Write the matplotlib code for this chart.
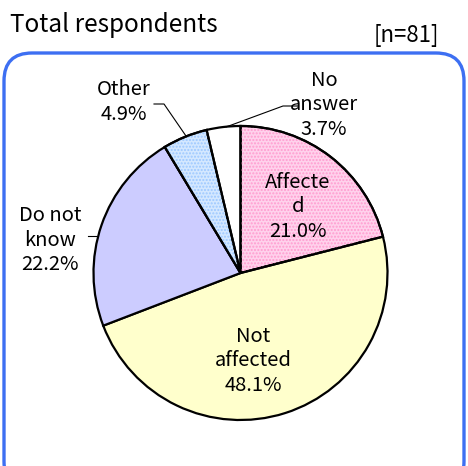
import matplotlib.pyplot as plt
from matplotlib.patches import FancyBboxPatch, Wedge

plt.rcParams['font.family'] = ['Noto Sans CJK JP', 'DejaVu Sans']

# data
labels = ['Affecte\nd', 'Not\naffected', 'Do not\nknow', 'Other', 'No\nanswer']
shares = [21.0, 48.1, 22.2, 4.9, 3.7]
colors = ['#ffd2ec', '#ffffcc', '#ccccff', '#d4e8ff', '#ffffff']
hatches = ['#ff9ccf', None, None, '#9cc8ff', None]
title = 'Total respondents'
n_note = '[n=81]'

W, H = 468, 466
cx, cy, R = 240.5, 273, 147  # pie centre/radius in pixels

fig = plt.figure(figsize=(W / 100, H / 100), dpi=100)
ax = fig.add_axes([0, 0, 1, 1])

# rounded blue frame
frame = FancyBboxPatch((4 / W, -0.05), (W - 8) / W, (H - 53) / H + 0.05,
                       boxstyle='round,pad=0,rounding_size=0.06',
                       transform=fig.transFigure, fill=False,
                       edgecolor='#3d6ff2', linewidth=2.4)
fig.patches.append(frame)

wedges, _ = ax.pie(shares, colors=colors, startangle=90, counterclock=False,
                   radius=1, center=(0, 0),
                   wedgeprops=dict(edgecolor='black', linewidth=1.6))

# dotted texture on the two hatched slices
for w, hc in zip(wedges, hatches):
    if hc:
        ax.add_patch(Wedge(w.center, w.r, w.theta1, w.theta2, facecolor='none',
                           edgecolor=hc, hatch='.....', linewidth=0, zorder=w.get_zorder() + 0.1))
        ax.add_patch(Wedge(w.center, w.r, w.theta1, w.theta2, facecolor='none',
                           edgecolor='black', linewidth=1.6, zorder=w.get_zorder() + 0.2))

ax.set_xlim(-cx / R, (W - cx) / R)
ax.set_ylim((cy - H) / R, cy / R)
ax.set_aspect('equal')
ax.axis('off')

def px(x, y):
    return ((x - cx) / R, (cy - y) / R)

# label positions (pixels) and leader lines
label_pos = [(298, 207), (253, 361), (50, 240), (124, 102), (324, 105)]
leaders = [None, None, [(88, 236), (97, 236)],
           [(154, 104), (164, 104), (186, 136)],
           [(298, 106), (283, 106), (226, 127)]]

for lab, s, (lx, ly), ld in zip(labels, shares, label_pos, leaders):
    ax.text(*px(lx, ly), f'{lab}\n{s:.1f}%', ha='center', va='center',
            fontsize=14.5, linespacing=1.2)
    if ld:
        xs, ys = zip(*[px(a, b) for a, b in ld])
        ax.plot(xs, ys, color='black', linewidth=0.8)

fig.text(10 / W, 1 - 32 / H, title, fontsize=17.5, ha='left', va='baseline')
fig.text(439 / W, 1 - 42 / H, n_note, fontsize=16, ha='right', va='baseline')

fig.savefig('out.png', dpi=100)
